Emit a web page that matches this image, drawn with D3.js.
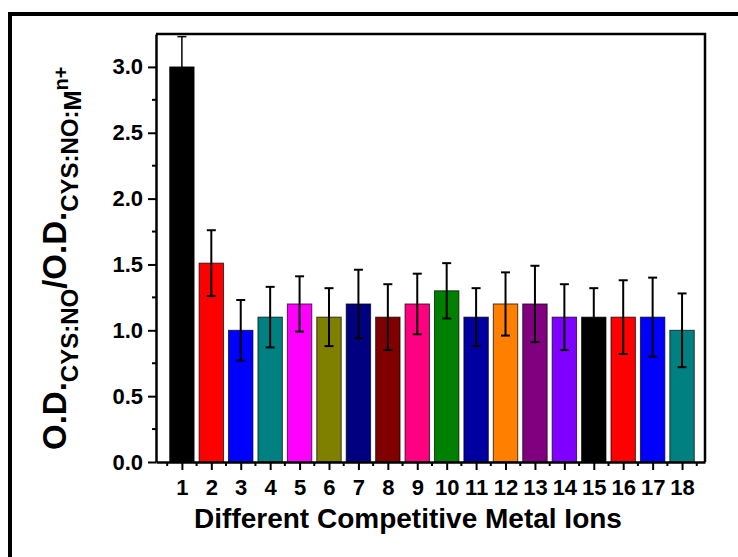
<!DOCTYPE html>
<html>
<head>
<meta charset="utf-8">
<script src="https://cdn.jsdelivr.net/npm/d3@7"></script>
<style>
  body { margin: 0; background: #fff; }
  svg { display: block; }
  text { font-family: "Liberation Sans", Arial, sans-serif; font-weight: bold; fill: #000; }
</style>
</head>
<body>
<div id="barChart"></div>
<script>
// data
var ions = [1, 2, 3, 4, 5, 6, 7, 8, 9, 10, 11, 12, 13, 14, 15, 16, 17, 18];
var ratio = [3.0, 1.51, 1.0, 1.1, 1.2, 1.1, 1.2, 1.1, 1.2, 1.3, 1.1, 1.2, 1.2, 1.1, 1.1, 1.1, 1.1, 1.0];
var ratioErr = [0.23, 0.25, 0.23, 0.23, 0.21, 0.22, 0.26, 0.25, 0.23, 0.21, 0.22, 0.24, 0.29, 0.25, 0.22, 0.28, 0.30, 0.28];
var barColors = ["#000000", "#ff0000", "#0000ff", "#008080", "#ff00ff", "#808000", "#000080", "#800000", "#ff0080",
                 "#008000", "#0000a0", "#ff8000", "#800080", "#8000ff", "#000000", "#ff0000", "#0000ff", "#008080"];
var yTicks = [0, 0.5, 1.0, 1.5, 2.0, 2.5, 3.0];

var cfg = {
    width: 738,
    height: 557,
    left: 156, right: 705, top: 34, bottom: 462
};

var x = d3.scaleLinear().domain([0.12, 18.78]).range([cfg.left, cfg.right]);
var y = d3.scaleLinear().domain([0, 3.25]).range([cfg.bottom, cfg.top]);

function initChart() {
    var svg = d3.select("#barChart").append("svg")
        .attr("width", cfg.width)
        .attr("height", cfg.height);

    // outer picture frame (runs off right and bottom)
    svg.append("path")
        .attr("d", "M10,557 L10,14 L738,14")
        .attr("fill", "none")
        .attr("stroke", "#000")
        .attr("stroke-width", 4);

    var data = ions.map(function(d, i) {
        return {ion: d, v: ratio[i], e: ratioErr[i], c: barColors[i]};
    });

    var step = x(2) - x(1);
    var bw = step * 0.83;

    svg.selectAll(".bar")
        .data(data)
        .enter().append("rect")
        .attr("class", "bar")
        .attr("x", function(d) { return x(d.ion) - bw / 2; })
        .attr("y", function(d) { return y(d.v); })
        .attr("width", bw)
        .attr("height", function(d) { return y(0) - y(d.v); })
        .attr("fill", function(d) { return d.c; })
        .attr("stroke", "#000")
        .attr("stroke-opacity", 0.7)
        .attr("stroke-width", 1);

    // error bars
    var eb = svg.selectAll(".err")
        .data(data)
        .enter().append("g")
        .attr("class", "err")
        .attr("stroke", "#000")
        .attr("stroke-width", function(d, i) { return i == 0 ? 1.5 : 2; });
    eb.append("line")
        .attr("x1", function(d) { return x(d.ion); })
        .attr("x2", function(d) { return x(d.ion); })
        .attr("y1", function(d) { return y(d.v - d.e); })
        .attr("y2", function(d) { return y(d.v + d.e); });
    eb.append("line")
        .attr("x1", function(d) { return x(d.ion) - 4.5; })
        .attr("x2", function(d) { return x(d.ion) + 4.5; })
        .attr("y1", function(d) { return y(d.v + d.e); })
        .attr("y2", function(d) { return y(d.v + d.e); });
    eb.append("line")
        .attr("x1", function(d) { return x(d.ion) - 4.5; })
        .attr("x2", function(d) { return x(d.ion) + 4.5; })
        .attr("y1", function(d) { return y(d.v - d.e); })
        .attr("y2", function(d) { return y(d.v - d.e); });

    // top and right frame of plot
    svg.append("path")
        .attr("d", "M" + cfg.left + "," + cfg.top + " L" + cfg.right + "," + cfg.top + " L" + cfg.right + "," + cfg.bottom)
        .attr("fill", "none")
        .attr("stroke", "#000")
        .attr("stroke-width", 2.5);

    // minor ticks
    var yMinor = d3.range(0.25, 3.25, 0.5);
    var xMinor = d3.range(0.5, 19, 1);

    var yAxis = d3.axisLeft(y)
        .tickValues(yTicks)
        .tickFormat(d3.format(".1f"))
        .tickSizeInner(8)
        .tickSizeOuter(0)
        .tickPadding(5);
    var gy = svg.append("g")
        .attr("class", "axis axis--y")
        .attr("transform", "translate(" + cfg.left + ",0)")
        .call(yAxis);
    gy.selectAll(".minor")
        .data(yMinor)
        .enter().append("line")
        .attr("class", "minor")
        .attr("x1", -4).attr("x2", 0)
        .attr("y1", function(d) { return y(d); })
        .attr("y2", function(d) { return y(d); });

    var xAxis = d3.axisBottom(x)
        .tickValues(ions)
        .tickFormat(d3.format("d"))
        .tickSizeInner(8)
        .tickSizeOuter(0)
        .tickPadding(5);
    var gx = svg.append("g")
        .attr("class", "axis axis--x")
        .attr("transform", "translate(0," + cfg.bottom + ")")
        .call(xAxis);
    gx.selectAll(".minor")
        .data(xMinor)
        .enter().append("line")
        .attr("class", "minor")
        .attr("y1", 0).attr("y2", 4)
        .attr("x1", function(d) { return x(d); })
        .attr("x2", function(d) { return x(d); });

    svg.selectAll(".axis path").attr("stroke", "#000").attr("stroke-width", 2.5);
    svg.selectAll(".axis line").attr("stroke", "#000").attr("stroke-width", 2);
    svg.selectAll(".axis text")
        .style("font-size", "22px")
        .style("font-family", "'Liberation Sans', Arial, sans-serif")
        .style("font-weight", "bold");
    gx.selectAll(".tick text").attr("dy", "0.9em");

    svg.append("text")
        .attr("x", 408)
        .attr("y", 528)
        .attr("text-anchor", "middle")
        .style("font-size", "28px")
        .text("Different Competitive Metal Ions");

    // y title with sub / superscripts
    var yt = svg.append("text")
        .attr("transform", "translate(66,450) rotate(-90)")
        .attr("text-anchor", "start");
    yt.append("tspan").style("font-size", "33px").text("O.D.");
    yt.append("tspan").style("font-size", "24px").attr("dy", 12).text("CYS:NO");
    yt.append("tspan").style("font-size", "33px").attr("dy", -12).text("/O.D.");
    yt.append("tspan").style("font-size", "24px").attr("dy", 12).text("CYS:NO:");
    yt.append("tspan").style("font-size", "24px").attr("dy", 3).text("M");
    yt.append("tspan").style("font-size", "20px").attr("dy", -13).text("n+");

    return svg;
}

initChart();
</script>
</body>
</html>
